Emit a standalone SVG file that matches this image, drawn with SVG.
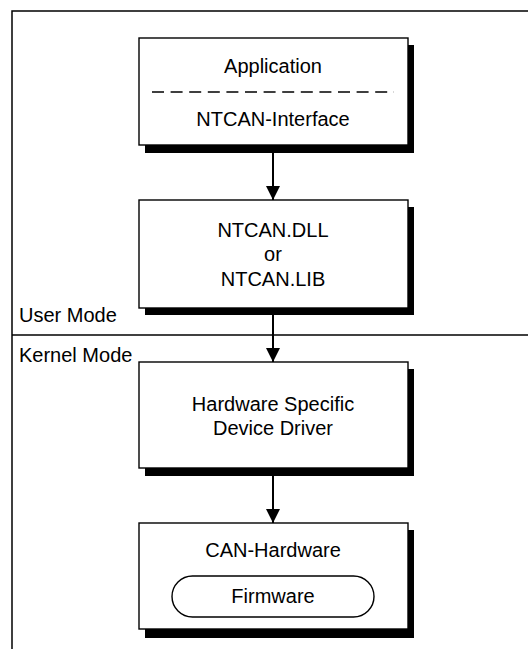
<svg xmlns="http://www.w3.org/2000/svg" width="528" height="649" viewBox="0 0 528 649">
<style>
.t{font-family:"Liberation Sans",Arial,sans-serif;font-size:20px;fill:#000}
.m{text-anchor:middle}
.box{fill:#fff;stroke:#000;stroke-width:1.4}
.sh{fill:#000}
.frame{fill:none;stroke:#000;stroke-width:1.5}
.conn{stroke:#000;stroke-width:2;fill:none}
</style>
<defs>
<marker id="ah" markerUnits="userSpaceOnUse" markerWidth="16" markerHeight="16" viewBox="0 0 16 16" refX="14" refY="8" orient="auto">
<path d="M0,1 L14,8 L0,15 Z" fill="#000"/>
</marker>
</defs>
<rect width="528" height="649" fill="#fff"/>
<g id="frame">
<path class="frame" d="M12,649 L12,11 L528,11"/>
<line class="frame" x1="12" y1="335" x2="528" y2="335"/>
<text class="t" x="19" y="322">User Mode</text>
<text class="t" x="19" y="362">Kernel Mode</text>
</g>
<g id="connectors">
<line class="conn" x1="273" y1="145" x2="273" y2="200" marker-end="url(#ah)"/>
<line class="conn" x1="273" y1="308" x2="273" y2="362" marker-end="url(#ah)"/>
<line class="conn" x1="273" y1="468" x2="273" y2="523" marker-end="url(#ah)"/>
</g>
<g id="application">
<rect class="sh" x="145" y="45" width="269" height="108"/>
<rect class="box" x="139" y="38" width="269" height="107"/>
<text class="t m" x="273" y="73">Application</text>
<line x1="152" y1="92" x2="394" y2="92" stroke="#000" stroke-width="1.5" stroke-dasharray="12,6.6"/>
<text class="t m" x="273" y="126">NTCAN-Interface</text>
</g>
<g id="ntcan-dll">
<rect class="sh" x="145" y="207" width="269" height="108"/>
<rect class="box" x="139" y="200" width="269" height="108"/>
<text class="t m" x="273" y="237">NTCAN.DLL</text>
<text class="t m" x="273" y="261">or</text>
<text class="t m" x="273" y="286">NTCAN.LIB</text>
</g>
<g id="device-driver">
<rect class="sh" x="145" y="369" width="269" height="107"/>
<rect class="box" x="139" y="362" width="269" height="106"/>
<text class="t m" x="273" y="411">Hardware Specific</text>
<text class="t m" x="273" y="435">Device Driver</text>
</g>
<g id="can-hardware">
<rect class="sh" x="145" y="530" width="269" height="108"/>
<rect class="box" x="139" y="523" width="269" height="106"/>
<text class="t m" x="273" y="557">CAN-Hardware</text>
<g id="firmware">
<rect x="172" y="576" width="202" height="41" rx="20.5" ry="20.5" fill="#fff" stroke="#000" stroke-width="1.4"/>
<text class="t m" x="273" y="603">Firmware</text>
</g>
</g>
</svg>
